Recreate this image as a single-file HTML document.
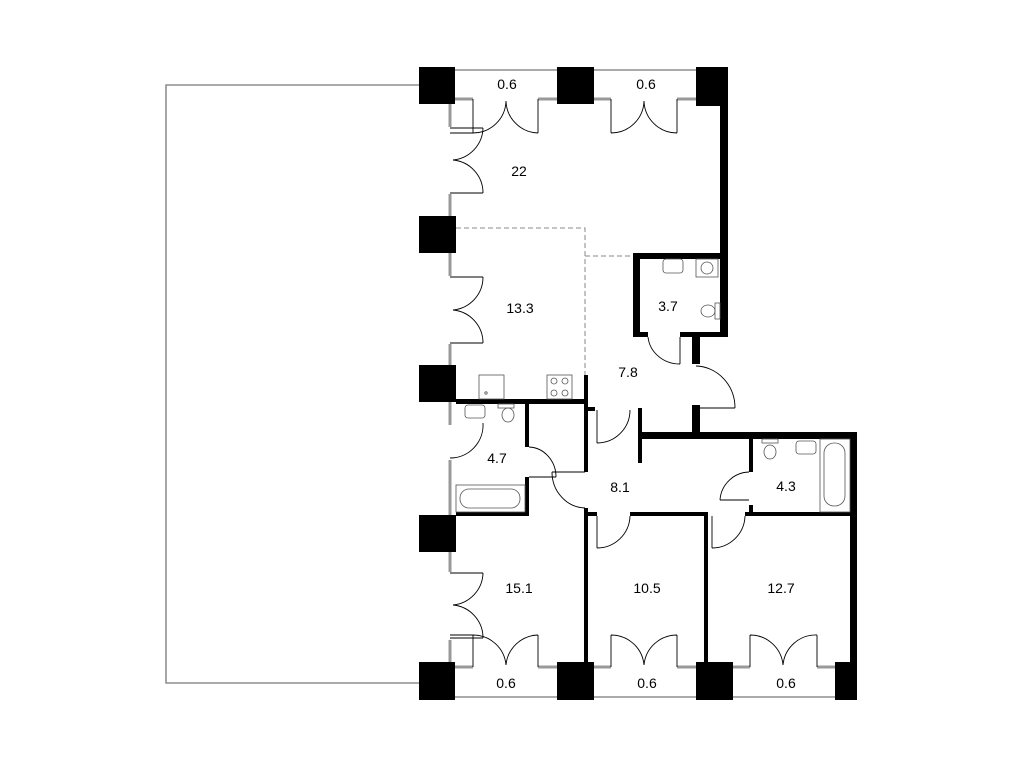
<!DOCTYPE html>
<html><head><meta charset="utf-8"><style>
html,body{margin:0;padding:0;background:#fff}
svg{display:block}
text{font-family:"Liberation Sans",sans-serif;font-size:14px;fill:#000;text-anchor:middle}
</style></head><body>
<svg width="1024" height="768" viewBox="0 0 1024 768" xmlns="http://www.w3.org/2000/svg">
<polyline points="419,85 166,85 166,683 419,683" fill="none" stroke="#777" stroke-width="1.3"/>
<line x1="455" y1="70" x2="696" y2="70" stroke="#555" stroke-width="1"/>
<line x1="455" y1="697" x2="835" y2="697" stroke="#555" stroke-width="1"/>
<g stroke="#999" stroke-width="3" fill="none">
<line x1="450" y1="104" x2="450" y2="127"/><line x1="450" y1="194" x2="450" y2="216"/>
<line x1="450" y1="253" x2="450" y2="276"/><line x1="450" y1="344" x2="450" y2="365"/>
<line x1="450" y1="400" x2="450" y2="425"/><line x1="450" y1="460" x2="450" y2="515"/>
<line x1="450" y1="552" x2="450" y2="572"/><line x1="450" y1="640" x2="450" y2="662"/>
<line x1="455" y1="99" x2="473" y2="99"/><line x1="538" y1="99" x2="557" y2="99"/>
<line x1="594" y1="99" x2="611" y2="99"/><line x1="677" y1="99" x2="696" y2="99"/>
<line x1="455" y1="667" x2="473" y2="667"/><line x1="538" y1="667" x2="557" y2="667"/>
<line x1="594" y1="667" x2="611" y2="667"/><line x1="677" y1="667" x2="696" y2="667"/>
<line x1="733" y1="667" x2="750" y2="667"/><line x1="817" y1="667" x2="835" y2="667"/>
</g>
<g fill="#000">
<rect x="419" y="67" width="36" height="37"/><rect x="557" y="67" width="37" height="37"/><rect x="696" y="67" width="32" height="39"/>
<rect x="419" y="216" width="37" height="37"/><rect x="419" y="365" width="37" height="37"/><rect x="419" y="515" width="37" height="37"/>
<rect x="419" y="662" width="36" height="38"/><rect x="557" y="662" width="37" height="38"/><rect x="696" y="662" width="37" height="38"/><rect x="835" y="662" width="22" height="38"/>
<rect x="720" y="104" width="8" height="233"/>
<rect x="633" y="253" width="95" height="6"/>
<rect x="633" y="253" width="7" height="84"/>
<rect x="633" y="332" width="15" height="5"/>
<rect x="680" y="332" width="48" height="5"/>
<rect x="692" y="332" width="8" height="32"/>
<rect x="692" y="405" width="8" height="28"/>
<rect x="456" y="399" width="132" height="5"/>
<rect x="584" y="375" width="4" height="29"/>
<rect x="525" y="404" width="4" height="43"/>
<rect x="525" y="477" width="4" height="38"/>
<rect x="456" y="512" width="73" height="4"/>
<rect x="584" y="404" width="4" height="68"/>
<rect x="584" y="508" width="4" height="159"/>
<rect x="584" y="407" width="11" height="4"/>
<rect x="638" y="408" width="4" height="55"/>
<rect x="638" y="432" width="219" height="7"/>
<rect x="850" y="432" width="7" height="268"/>
<rect x="749" y="439" width="4" height="33"/>
<rect x="749" y="505" width="4" height="10"/>
<rect x="749" y="512" width="108" height="4"/>
<rect x="584" y="512" width="13" height="4"/>
<rect x="630" y="512" width="77" height="4"/>
<rect x="704" y="512" width="4" height="155"/>
<rect x="745" y="512" width="8" height="4"/>
</g>
<g stroke="#888" stroke-width="1" stroke-dasharray="5,3" fill="none">
<polyline points="456,228 585,228 585,375"/>
<line x1="585" y1="256" x2="633" y2="256"/>
</g>
<g stroke="#000" stroke-width="0.9" fill="none">
<path d="M473,99 V133 M538,99 V133 M506,101 A33,33 0 0 1 473,133 M506,101 A33,33 0 0 0 538,133"/>
<path d="M611,99 V133 M677,99 V133 M644,101 A33,33 0 0 1 611,133 M644,101 A33,33 0 0 0 677,133"/>
<path d="M473,667 V635 M538,667 V635 M506,665 A33,33 0 0 0 473,635 M506,665 A33,33 0 0 1 538,635"/>
<path d="M611,667 V635 M677,667 V635 M644,665 A33,33 0 0 0 611,635 M644,665 A33,33 0 0 1 677,635"/>
<path d="M750,667 V635 M817,667 V635 M783,665 A33,33 0 0 0 750,635 M783,665 A33,33 0 0 1 817,635"/>
<path d="M450,128 H483 M450,193 H483 M453,160 A33,33 0 0 0 483,128 M453,160 A33,33 0 0 1 483,193"/>
<path d="M450,277 H483 M450,343 H483 M453,310 A33,33 0 0 0 483,277 M453,310 A33,33 0 0 1 483,343"/>
<path d="M450,573 H483 M450,638 H483 M453,605 A33,33 0 0 0 483,573 M453,605 A33,33 0 0 1 483,638"/>
<path d="M450,133 H473 M450,635 H473"/>
<path d="M483,423 A33,33 0 0 1 450,458"/>
<path d="M680,337 V364 M648,337 A32,30 0 0 0 680,364"/>
<path d="M696,408 H735 M696,366 A40,42 0 0 1 735,408"/>
<path d="M597,410 V443 M630,410 A33,33 0 0 1 597,443"/>
<path d="M529,477 H556 M556,477 A28,30 0 0 0 529,447"/>
<path d="M552,472 H585 M552,472 A34,36 0 0 0 585,508"/>
<path d="M597,516 V548 M597,548 A33,33 0 0 0 630,516"/>
<path d="M712,516 V548 M712,548 A33,33 0 0 0 745,516"/>
<path d="M720,500 H749 M720,500 A30,30 0 0 1 749,472"/>
</g>
<g stroke="#555" stroke-width="0.8" fill="none">
<rect x="479" y="375" width="25" height="24"/><circle cx="486" cy="393" r="1.2"/>
<rect x="547" y="375" width="25" height="24"/>
<circle cx="554" cy="381" r="3"/><circle cx="565" cy="381" r="3"/><circle cx="554" cy="393" r="3"/><circle cx="565" cy="393" r="3"/>
<rect x="663" y="259" width="20" height="14" rx="3"/><rect x="696" y="259" width="22" height="18"/><circle cx="707" cy="268" r="6"/>
<rect x="715" y="303" width="5" height="16"/><ellipse cx="708" cy="311" rx="7" ry="6"/>
<rect x="465" y="405" width="20" height="13" rx="3"/><rect x="498" y="404" width="16" height="4"/><ellipse cx="508" cy="415" rx="6" ry="7"/>
<rect x="456" y="485" width="69" height="27"/><rect x="460" y="489" width="60" height="19" rx="9"/>
<rect x="762" y="439" width="16" height="4"/><ellipse cx="770" cy="452" rx="6" ry="7"/>
<rect x="796" y="441" width="20" height="13" rx="3"/>
<rect x="820" y="439" width="30" height="73"/><rect x="824" y="443" width="21" height="63" rx="10"/>
</g>
<text x="507" y="89">0.6</text><text x="646" y="89">0.6</text>
<text x="519" y="176">22</text>
<text x="520" y="313">13.3</text>
<text x="668" y="311">3.7</text>
<text x="628" y="377">7.8</text>
<text x="497" y="463">4.7</text>
<text x="620" y="492">8.1</text>
<text x="786" y="491">4.3</text>
<text x="519" y="593">15.1</text>
<text x="647" y="593">10.5</text>
<text x="781" y="593">12.7</text>
<text x="506" y="688">0.6</text><text x="647" y="688">0.6</text><text x="786" y="688">0.6</text>
</svg>
</body></html>
